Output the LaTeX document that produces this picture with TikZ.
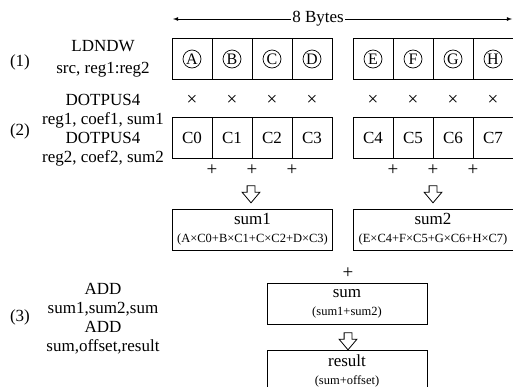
\documentclass[tikz,border=0pt]{standalone}
\usepackage{fontspec}
\setmainfont{Liberation Serif}
\usetikzlibrary{positioning,shapes.arrows}

\newcommand{\smalltext}{\fontsize{12.5}{14}\selectfont}

\tikzset{
	cell/.style={draw=black,minimum width=40pt,minimum height=41pt,inner sep=0pt,outer sep=0pt},
	letter/.style={circle,draw=black,minimum size=18pt,inner sep=0pt,line width=0.7pt,font=\fontsize{16}{16}\selectfont},
	op/.style={inner sep=0pt,font=\fontsize{19}{19}\selectfont},
	sumbox/.style={draw=black,minimum width=160pt,minimum height=41pt,inner sep=0pt,align=center},
	downarrow/.style={single arrow,draw=black,shape border rotate=270,minimum height=17pt,inner sep=3.5pt,single arrow head extend=5pt,single arrow tip angle=80}
}

\begin{document}
\begin{tikzpicture}[x=1pt,y=-1pt,font=\fontsize{17}{19}\selectfont,line width=0.8pt]
	\useasboundingbox (0,0) rectangle (513,386);

	% 8 bytes
	\coordinate (bl) at (173,19);
	\coordinate (br) at (512,19);
	\node[inner sep=1pt,name=bytes] at (318,19){8 Bytes};
	\draw[-latex] (bytes) -- (bl);
	\draw[-latex] (bytes) -- (br);

	% (1) load
	\node[name=l1] at (20,62){(1)};
	\node[align=center,name=i1] at (103,59){LDNDW\\[3pt]src, reg1:reg2};
	\node[cell,name=b1] at (192,59){};
	\node[cell,name=b2, right=0pt of b1]{};
	\node[cell,name=b3, right=0pt of b2]{};
	\node[cell,name=b4, right=0pt of b3]{};
	\node[cell,name=b5] at (373,59){};
	\node[cell,name=b6, right=0pt of b5]{};
	\node[cell,name=b7, right=0pt of b6]{};
	\node[cell,name=b8, right=0pt of b7]{};
	\node[letter,name=A] at (b1){A};
	\node[letter,name=B] at (b2){B};
	\node[letter,name=C] at (b3){C};
	\node[letter,name=D] at (b4){D};
	\node[letter,name=E] at (b5){E};
	\node[letter,name=F] at (b6){F};
	\node[letter,name=G] at (b7){G};
	\node[letter,name=H] at (b8){H};

	% (2) dot products
	\node[name=l2] at (20,131){(2)};
	\node[align=center,name=i2] at (103,130){DOTPUS4\\reg1, coef1, sum1\\DOTPUS4\\reg2, coef2, sum2};
	\node[op,name=m1] at (192,100){×};
	\node[op,name=m2] at (232,100){×};
	\node[op,name=m3] at (272,100){×};
	\node[op,name=m4] at (312,100){×};
	\node[op,name=m5] at (373,100){×};
	\node[op,name=m6] at (413,100){×};
	\node[op,name=m7] at (453,100){×};
	\node[op,name=m8] at (493,100){×};
	\node[cell,name=C0] at (192,138){C0};
	\node[cell,name=C1, right=0pt of C0]{C1};
	\node[cell,name=C2, right=0pt of C1]{C2};
	\node[cell,name=C3, right=0pt of C2]{C3};
	\node[cell,name=C4] at (373,138){C4};
	\node[cell,name=C5, right=0pt of C4]{C5};
	\node[cell,name=C6, right=0pt of C5]{C6};
	\node[cell,name=C7, right=0pt of C6]{C7};
	\node[op,name=p1] at (212,170){+};
	\node[op,name=p2] at (252,170){+};
	\node[op,name=p3] at (292,170){+};
	\node[op,name=p4] at (393,170){+};
	\node[op,name=p5] at (433,170){+};
	\node[op,name=p6] at (473,170){+};
	\node[downarrow,name=d1] at (251,192){};
	\node[downarrow,name=d2] at (433,192){};
	\node[sumbox,name=sum1] at (252.5,229.5){sum1\\[-1pt]{\smalltext(A×C0+B×C1+C×C2+D×C3)}};
	\node[sumbox,name=sum2] at (433,229.5){sum2\\[-1pt]{\smalltext(E×C4+F×C5+G×C6+H×C7)}};

	% (3) add
	\node[name=l3] at (20,317){(3)};
	\node[align=center,name=i3] at (103,319){ADD\\sum1,sum2,sum\\ADD\\sum,offset,result};
	\node[op,name=p7] at (348,273){+};
	\node[sumbox,name=sum] at (347,303.5){sum\\[-1pt]{\smalltext(sum1+sum2)}};
	\node[downarrow,name=d3] at (348,339){};
	\node[sumbox,name=result] at (347,370.5){result\\[-1pt]{\smalltext(sum+offset)}};
\end{tikzpicture}
\end{document}
